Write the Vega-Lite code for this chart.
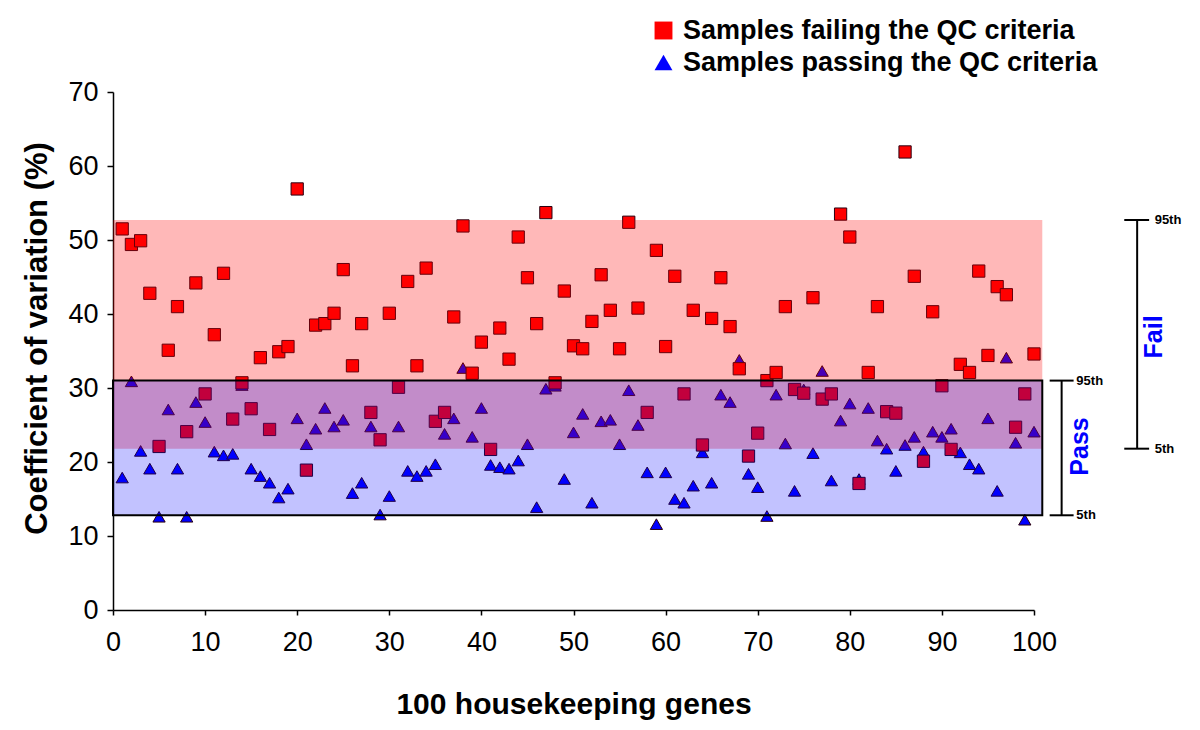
{
  "$schema": "https://vega.github.io/schema/vega-lite/v6.json",
  "width": 921,
  "height": 518,
  "autosize": {"type": "none"},
  "padding": {"left": 113, "top": 92, "right": 166, "bottom": 120},
  "background": "white",
  "config": {
    "font": "Liberation Sans",
    "view": {"stroke": null},
    "axis": {"grid": false, "domainColor": "black", "tickColor": "black", "labelColor": "black", "titleColor": "black", "domainWidth": 1.5, "tickWidth": 1.5, "labelFont": "Liberation Sans", "titleFont": "Liberation Sans"}
  },
  "datasets": {
    "points": [
      {"gene": 1, "cv": 17.9, "status": "Samples passing the QC criteria"},
      {"gene": 2, "cv": 30.9, "status": "Samples passing the QC criteria"},
      {"gene": 3, "cv": 21.5, "status": "Samples passing the QC criteria"},
      {"gene": 4, "cv": 19.1, "status": "Samples passing the QC criteria"},
      {"gene": 5, "cv": 12.6, "status": "Samples passing the QC criteria"},
      {"gene": 6, "cv": 27.1, "status": "Samples passing the QC criteria"},
      {"gene": 7, "cv": 19.1, "status": "Samples passing the QC criteria"},
      {"gene": 8, "cv": 12.6, "status": "Samples passing the QC criteria"},
      {"gene": 9, "cv": 28.1, "status": "Samples passing the QC criteria"},
      {"gene": 10, "cv": 25.4, "status": "Samples passing the QC criteria"},
      {"gene": 11, "cv": 21.4, "status": "Samples passing the QC criteria"},
      {"gene": 12, "cv": 20.9, "status": "Samples passing the QC criteria"},
      {"gene": 13, "cv": 21.1, "status": "Samples passing the QC criteria"},
      {"gene": 14, "cv": 30.4, "status": "Samples passing the QC criteria"},
      {"gene": 15, "cv": 19.1, "status": "Samples passing the QC criteria"},
      {"gene": 16, "cv": 18.1, "status": "Samples passing the QC criteria"},
      {"gene": 17, "cv": 17.2, "status": "Samples passing the QC criteria"},
      {"gene": 18, "cv": 15.2, "status": "Samples passing the QC criteria"},
      {"gene": 19, "cv": 16.4, "status": "Samples passing the QC criteria"},
      {"gene": 20, "cv": 25.9, "status": "Samples passing the QC criteria"},
      {"gene": 21, "cv": 22.4, "status": "Samples passing the QC criteria"},
      {"gene": 22, "cv": 24.5, "status": "Samples passing the QC criteria"},
      {"gene": 23, "cv": 27.3, "status": "Samples passing the QC criteria"},
      {"gene": 24, "cv": 24.8, "status": "Samples passing the QC criteria"},
      {"gene": 25, "cv": 25.7, "status": "Samples passing the QC criteria"},
      {"gene": 26, "cv": 15.8, "status": "Samples passing the QC criteria"},
      {"gene": 27, "cv": 17.2, "status": "Samples passing the QC criteria"},
      {"gene": 28, "cv": 24.8, "status": "Samples passing the QC criteria"},
      {"gene": 29, "cv": 12.9, "status": "Samples passing the QC criteria"},
      {"gene": 30, "cv": 15.4, "status": "Samples passing the QC criteria"},
      {"gene": 31, "cv": 24.8, "status": "Samples passing the QC criteria"},
      {"gene": 32, "cv": 18.8, "status": "Samples passing the QC criteria"},
      {"gene": 33, "cv": 18.1, "status": "Samples passing the QC criteria"},
      {"gene": 34, "cv": 18.8, "status": "Samples passing the QC criteria"},
      {"gene": 35, "cv": 19.7, "status": "Samples passing the QC criteria"},
      {"gene": 36, "cv": 23.8, "status": "Samples passing the QC criteria"},
      {"gene": 37, "cv": 25.9, "status": "Samples passing the QC criteria"},
      {"gene": 38, "cv": 32.7, "status": "Samples passing the QC criteria"},
      {"gene": 39, "cv": 23.4, "status": "Samples passing the QC criteria"},
      {"gene": 40, "cv": 27.3, "status": "Samples passing the QC criteria"},
      {"gene": 41, "cv": 19.6, "status": "Samples passing the QC criteria"},
      {"gene": 42, "cv": 19.3, "status": "Samples passing the QC criteria"},
      {"gene": 43, "cv": 19.1, "status": "Samples passing the QC criteria"},
      {"gene": 44, "cv": 20.2, "status": "Samples passing the QC criteria"},
      {"gene": 45, "cv": 22.4, "status": "Samples passing the QC criteria"},
      {"gene": 46, "cv": 13.9, "status": "Samples passing the QC criteria"},
      {"gene": 47, "cv": 29.9, "status": "Samples passing the QC criteria"},
      {"gene": 48, "cv": 30.3, "status": "Samples passing the QC criteria"},
      {"gene": 49, "cv": 17.7, "status": "Samples passing the QC criteria"},
      {"gene": 50, "cv": 24.0, "status": "Samples passing the QC criteria"},
      {"gene": 51, "cv": 26.5, "status": "Samples passing the QC criteria"},
      {"gene": 52, "cv": 14.5, "status": "Samples passing the QC criteria"},
      {"gene": 53, "cv": 25.5, "status": "Samples passing the QC criteria"},
      {"gene": 54, "cv": 25.7, "status": "Samples passing the QC criteria"},
      {"gene": 55, "cv": 22.4, "status": "Samples passing the QC criteria"},
      {"gene": 56, "cv": 29.7, "status": "Samples passing the QC criteria"},
      {"gene": 57, "cv": 25.0, "status": "Samples passing the QC criteria"},
      {"gene": 58, "cv": 18.6, "status": "Samples passing the QC criteria"},
      {"gene": 59, "cv": 11.6, "status": "Samples passing the QC criteria"},
      {"gene": 60, "cv": 18.6, "status": "Samples passing the QC criteria"},
      {"gene": 61, "cv": 15.0, "status": "Samples passing the QC criteria"},
      {"gene": 62, "cv": 14.5, "status": "Samples passing the QC criteria"},
      {"gene": 63, "cv": 16.8, "status": "Samples passing the QC criteria"},
      {"gene": 64, "cv": 21.3, "status": "Samples passing the QC criteria"},
      {"gene": 65, "cv": 17.2, "status": "Samples passing the QC criteria"},
      {"gene": 66, "cv": 29.1, "status": "Samples passing the QC criteria"},
      {"gene": 67, "cv": 28.1, "status": "Samples passing the QC criteria"},
      {"gene": 68, "cv": 33.8, "status": "Samples passing the QC criteria"},
      {"gene": 69, "cv": 18.4, "status": "Samples passing the QC criteria"},
      {"gene": 70, "cv": 16.6, "status": "Samples passing the QC criteria"},
      {"gene": 71, "cv": 12.7, "status": "Samples passing the QC criteria"},
      {"gene": 72, "cv": 29.1, "status": "Samples passing the QC criteria"},
      {"gene": 73, "cv": 22.5, "status": "Samples passing the QC criteria"},
      {"gene": 74, "cv": 16.1, "status": "Samples passing the QC criteria"},
      {"gene": 75, "cv": 29.8, "status": "Samples passing the QC criteria"},
      {"gene": 76, "cv": 21.2, "status": "Samples passing the QC criteria"},
      {"gene": 77, "cv": 32.3, "status": "Samples passing the QC criteria"},
      {"gene": 78, "cv": 17.5, "status": "Samples passing the QC criteria"},
      {"gene": 79, "cv": 25.6, "status": "Samples passing the QC criteria"},
      {"gene": 80, "cv": 27.9, "status": "Samples passing the QC criteria"},
      {"gene": 81, "cv": 17.7, "status": "Samples passing the QC criteria"},
      {"gene": 82, "cv": 27.3, "status": "Samples passing the QC criteria"},
      {"gene": 83, "cv": 22.9, "status": "Samples passing the QC criteria"},
      {"gene": 84, "cv": 21.8, "status": "Samples passing the QC criteria"},
      {"gene": 85, "cv": 18.8, "status": "Samples passing the QC criteria"},
      {"gene": 86, "cv": 22.3, "status": "Samples passing the QC criteria"},
      {"gene": 87, "cv": 23.4, "status": "Samples passing the QC criteria"},
      {"gene": 88, "cv": 21.4, "status": "Samples passing the QC criteria"},
      {"gene": 89, "cv": 24.1, "status": "Samples passing the QC criteria"},
      {"gene": 90, "cv": 23.4, "status": "Samples passing the QC criteria"},
      {"gene": 91, "cv": 24.5, "status": "Samples passing the QC criteria"},
      {"gene": 92, "cv": 21.3, "status": "Samples passing the QC criteria"},
      {"gene": 93, "cv": 19.7, "status": "Samples passing the QC criteria"},
      {"gene": 94, "cv": 19.1, "status": "Samples passing the QC criteria"},
      {"gene": 95, "cv": 25.9, "status": "Samples passing the QC criteria"},
      {"gene": 96, "cv": 16.1, "status": "Samples passing the QC criteria"},
      {"gene": 97, "cv": 34.1, "status": "Samples passing the QC criteria"},
      {"gene": 98, "cv": 22.6, "status": "Samples passing the QC criteria"},
      {"gene": 99, "cv": 12.2, "status": "Samples passing the QC criteria"},
      {"gene": 100, "cv": 24.1, "status": "Samples passing the QC criteria"},
      {"gene": 1, "cv": 51.5, "status": "Samples failing the QC criteria"},
      {"gene": 2, "cv": 49.4, "status": "Samples failing the QC criteria"},
      {"gene": 3, "cv": 49.9, "status": "Samples failing the QC criteria"},
      {"gene": 4, "cv": 42.8, "status": "Samples failing the QC criteria"},
      {"gene": 5, "cv": 22.1, "status": "Samples failing the QC criteria"},
      {"gene": 6, "cv": 35.1, "status": "Samples failing the QC criteria"},
      {"gene": 7, "cv": 41.0, "status": "Samples failing the QC criteria"},
      {"gene": 8, "cv": 24.1, "status": "Samples failing the QC criteria"},
      {"gene": 9, "cv": 44.2, "status": "Samples failing the QC criteria"},
      {"gene": 10, "cv": 29.2, "status": "Samples failing the QC criteria"},
      {"gene": 11, "cv": 37.2, "status": "Samples failing the QC criteria"},
      {"gene": 12, "cv": 45.5, "status": "Samples failing the QC criteria"},
      {"gene": 13, "cv": 25.8, "status": "Samples failing the QC criteria"},
      {"gene": 14, "cv": 30.7, "status": "Samples failing the QC criteria"},
      {"gene": 15, "cv": 27.2, "status": "Samples failing the QC criteria"},
      {"gene": 16, "cv": 34.1, "status": "Samples failing the QC criteria"},
      {"gene": 17, "cv": 24.4, "status": "Samples failing the QC criteria"},
      {"gene": 18, "cv": 34.9, "status": "Samples failing the QC criteria"},
      {"gene": 19, "cv": 35.6, "status": "Samples failing the QC criteria"},
      {"gene": 20, "cv": 56.9, "status": "Samples failing the QC criteria"},
      {"gene": 21, "cv": 18.9, "status": "Samples failing the QC criteria"},
      {"gene": 22, "cv": 38.5, "status": "Samples failing the QC criteria"},
      {"gene": 23, "cv": 38.7, "status": "Samples failing the QC criteria"},
      {"gene": 24, "cv": 40.1, "status": "Samples failing the QC criteria"},
      {"gene": 25, "cv": 46.0, "status": "Samples failing the QC criteria"},
      {"gene": 26, "cv": 33.0, "status": "Samples failing the QC criteria"},
      {"gene": 27, "cv": 38.7, "status": "Samples failing the QC criteria"},
      {"gene": 28, "cv": 26.7, "status": "Samples failing the QC criteria"},
      {"gene": 29, "cv": 23.0, "status": "Samples failing the QC criteria"},
      {"gene": 30, "cv": 40.1, "status": "Samples failing the QC criteria"},
      {"gene": 31, "cv": 30.1, "status": "Samples failing the QC criteria"},
      {"gene": 32, "cv": 44.4, "status": "Samples failing the QC criteria"},
      {"gene": 33, "cv": 33.0, "status": "Samples failing the QC criteria"},
      {"gene": 34, "cv": 46.2, "status": "Samples failing the QC criteria"},
      {"gene": 35, "cv": 25.5, "status": "Samples failing the QC criteria"},
      {"gene": 36, "cv": 26.7, "status": "Samples failing the QC criteria"},
      {"gene": 37, "cv": 39.6, "status": "Samples failing the QC criteria"},
      {"gene": 38, "cv": 51.9, "status": "Samples failing the QC criteria"},
      {"gene": 39, "cv": 32.0, "status": "Samples failing the QC criteria"},
      {"gene": 40, "cv": 36.2, "status": "Samples failing the QC criteria"},
      {"gene": 41, "cv": 21.7, "status": "Samples failing the QC criteria"},
      {"gene": 42, "cv": 38.1, "status": "Samples failing the QC criteria"},
      {"gene": 43, "cv": 33.9, "status": "Samples failing the QC criteria"},
      {"gene": 44, "cv": 50.4, "status": "Samples failing the QC criteria"},
      {"gene": 45, "cv": 44.9, "status": "Samples failing the QC criteria"},
      {"gene": 46, "cv": 38.7, "status": "Samples failing the QC criteria"},
      {"gene": 47, "cv": 53.7, "status": "Samples failing the QC criteria"},
      {"gene": 48, "cv": 30.7, "status": "Samples failing the QC criteria"},
      {"gene": 49, "cv": 43.1, "status": "Samples failing the QC criteria"},
      {"gene": 50, "cv": 35.7, "status": "Samples failing the QC criteria"},
      {"gene": 51, "cv": 35.3, "status": "Samples failing the QC criteria"},
      {"gene": 52, "cv": 39.0, "status": "Samples failing the QC criteria"},
      {"gene": 53, "cv": 45.3, "status": "Samples failing the QC criteria"},
      {"gene": 54, "cv": 40.5, "status": "Samples failing the QC criteria"},
      {"gene": 55, "cv": 35.3, "status": "Samples failing the QC criteria"},
      {"gene": 56, "cv": 52.4, "status": "Samples failing the QC criteria"},
      {"gene": 57, "cv": 40.8, "status": "Samples failing the QC criteria"},
      {"gene": 58, "cv": 26.7, "status": "Samples failing the QC criteria"},
      {"gene": 59, "cv": 48.6, "status": "Samples failing the QC criteria"},
      {"gene": 60, "cv": 35.6, "status": "Samples failing the QC criteria"},
      {"gene": 61, "cv": 45.1, "status": "Samples failing the QC criteria"},
      {"gene": 62, "cv": 29.2, "status": "Samples failing the QC criteria"},
      {"gene": 63, "cv": 40.5, "status": "Samples failing the QC criteria"},
      {"gene": 64, "cv": 22.3, "status": "Samples failing the QC criteria"},
      {"gene": 65, "cv": 39.4, "status": "Samples failing the QC criteria"},
      {"gene": 66, "cv": 44.9, "status": "Samples failing the QC criteria"},
      {"gene": 67, "cv": 38.3, "status": "Samples failing the QC criteria"},
      {"gene": 68, "cv": 32.6, "status": "Samples failing the QC criteria"},
      {"gene": 69, "cv": 20.8, "status": "Samples failing the QC criteria"},
      {"gene": 70, "cv": 23.9, "status": "Samples failing the QC criteria"},
      {"gene": 71, "cv": 31.0, "status": "Samples failing the QC criteria"},
      {"gene": 72, "cv": 32.1, "status": "Samples failing the QC criteria"},
      {"gene": 73, "cv": 41.0, "status": "Samples failing the QC criteria"},
      {"gene": 74, "cv": 29.8, "status": "Samples failing the QC criteria"},
      {"gene": 75, "cv": 29.3, "status": "Samples failing the QC criteria"},
      {"gene": 76, "cv": 42.2, "status": "Samples failing the QC criteria"},
      {"gene": 77, "cv": 28.5, "status": "Samples failing the QC criteria"},
      {"gene": 78, "cv": 29.2, "status": "Samples failing the QC criteria"},
      {"gene": 79, "cv": 53.5, "status": "Samples failing the QC criteria"},
      {"gene": 80, "cv": 50.4, "status": "Samples failing the QC criteria"},
      {"gene": 81, "cv": 17.1, "status": "Samples failing the QC criteria"},
      {"gene": 82, "cv": 32.1, "status": "Samples failing the QC criteria"},
      {"gene": 83, "cv": 41.0, "status": "Samples failing the QC criteria"},
      {"gene": 84, "cv": 26.8, "status": "Samples failing the QC criteria"},
      {"gene": 85, "cv": 26.6, "status": "Samples failing the QC criteria"},
      {"gene": 86, "cv": 61.9, "status": "Samples failing the QC criteria"},
      {"gene": 87, "cv": 45.1, "status": "Samples failing the QC criteria"},
      {"gene": 88, "cv": 20.1, "status": "Samples failing the QC criteria"},
      {"gene": 89, "cv": 40.3, "status": "Samples failing the QC criteria"},
      {"gene": 90, "cv": 30.3, "status": "Samples failing the QC criteria"},
      {"gene": 91, "cv": 21.7, "status": "Samples failing the QC criteria"},
      {"gene": 92, "cv": 33.2, "status": "Samples failing the QC criteria"},
      {"gene": 93, "cv": 32.1, "status": "Samples failing the QC criteria"},
      {"gene": 94, "cv": 45.8, "status": "Samples failing the QC criteria"},
      {"gene": 95, "cv": 34.4, "status": "Samples failing the QC criteria"},
      {"gene": 96, "cv": 43.7, "status": "Samples failing the QC criteria"},
      {"gene": 97, "cv": 42.6, "status": "Samples failing the QC criteria"},
      {"gene": 98, "cv": 24.7, "status": "Samples failing the QC criteria"},
      {"gene": 99, "cv": 29.2, "status": "Samples failing the QC criteria"},
      {"gene": 100, "cv": 34.6, "status": "Samples failing the QC criteria"}
    ],
    "bands": [
      {"band": "fail", "gene": 0, "gene2": 100.9, "cv": 21.8, "cv2": 52.7},
      {"band": "pass", "gene": 0, "gene2": 100.9, "cv": 12.8, "cv2": 31.0}
    ],
    "brackets": [
      {"gene": 103.0, "gene2": 103.0, "cv": 12.8, "cv2": 31.0},
      {"gene": 101.7, "gene2": 104.3, "cv": 31.0, "cv2": 31.0},
      {"gene": 101.7, "gene2": 104.3, "cv": 12.8, "cv2": 12.8},
      {"gene": 111.2, "gene2": 111.2, "cv": 21.8, "cv2": 52.7},
      {"gene": 109.8, "gene2": 112.5, "cv": 52.7, "cv2": 52.7},
      {"gene": 109.8, "gene2": 112.5, "cv": 21.8, "cv2": 21.8}
    ],
    "pct": [
      {"gene": 104.6, "cv": 31.0, "label": "95th"},
      {"gene": 104.6, "cv": 12.8, "label": "5th"},
      {"gene": 113.1, "cv": 52.7, "label": "95th"},
      {"gene": 113.1, "cv": 21.8, "label": "5th"}
    ],
    "groups": [
      {"gene": 105.0, "cv": 22.1, "label": "Pass"},
      {"gene": 113.0, "cv": 36.9, "label": "Fail"}
    ]
  },
  "encoding": {
    "x": {"field": "gene", "type": "quantitative", "scale": {"domain": [0, 100], "nice": false},
      "axis": {"values": [0, 10, 20, 30, 40, 50, 60, 70, 80, 90, 100], "tickSize": 5, "labelFontSize": 27, "labelPadding": 14, "labelFlush": false, "title": "100 housekeeping genes", "titleFontSize": 30, "titleFontWeight": "bold", "titlePadding": 34}},
    "y": {"field": "cv", "type": "quantitative", "scale": {"domain": [0, 70], "nice": false},
      "axis": {"values": [0, 10, 20, 30, 40, 50, 60, 70], "tickSize": 6, "labelFontSize": 27, "labelPadding": 9, "labelFlush": false, "title": "Coefficient of variation (%)", "titleFontSize": 31, "titleFontWeight": "bold", "titlePadding": 14, "titleY": 246}}
  },
  "layer": [
    {
      "data": {"name": "points"},
      "mark": {"type": "point", "filled": true, "opacity": 1, "size": 150, "stroke": "#2a0010", "strokeWidth": 1},
      "encoding": {
        "color": {"field": "status", "type": "nominal",
          "scale": {"domain": ["Samples failing the QC criteria", "Samples passing the QC criteria"], "range": ["#ff0000", "#0000ff"]},
          "legend": {"orient": "none", "legendX": 537, "legendY": -75, "title": null, "labelFontSize": 27, "labelFontWeight": "bold", "labelColor": "black", "labelLimit": 0, "symbolSize": 320, "symbolStrokeColor": "#2a0010", "symbolStrokeWidth": 1, "symbolOpacity": 1, "rowPadding": 4, "labelOffset": 6}},
        "shape": {"field": "status", "type": "nominal",
          "scale": {"domain": ["Samples failing the QC criteria", "Samples passing the QC criteria"], "range": ["square", "triangle-up"]},
          "legend": {"orient": "none", "legendX": 537, "legendY": -75, "title": null, "labelFontSize": 27, "labelFontWeight": "bold", "labelColor": "black", "labelLimit": 0, "symbolSize": 320, "symbolStrokeColor": "#2a0010", "symbolStrokeWidth": 1, "symbolOpacity": 1, "rowPadding": 4, "labelOffset": 6}}
      }
    },
    {
      "data": {"name": "bands"},
      "transform": [{"filter": "datum.band == 'fail'"}],
      "mark": {"type": "rect", "fill": "#ff0000", "fillOpacity": 0.28},
      "encoding": {"x2": {"field": "gene2"}, "y2": {"field": "cv2"}}
    },
    {
      "data": {"name": "bands"},
      "transform": [{"filter": "datum.band == 'pass'"}],
      "mark": {"type": "rect", "fill": "#0000ff", "fillOpacity": 0.24, "stroke": "black", "strokeWidth": 2},
      "encoding": {"x2": {"field": "gene2"}, "y2": {"field": "cv2"}}
    },
    {
      "data": {"name": "brackets"},
      "mark": {"type": "rule", "color": "black", "strokeWidth": 2},
      "encoding": {"x2": {"field": "gene2"}, "y2": {"field": "cv2"}}
    },
    {
      "data": {"name": "pct"},
      "mark": {"type": "text", "align": "left", "baseline": "middle", "fontSize": 13, "fontWeight": "bold", "color": "black"},
      "encoding": {"text": {"field": "label"}}
    },
    {
      "data": {"name": "groups"},
      "mark": {"type": "text", "align": "center", "baseline": "middle", "angle": 270, "fontSize": 25, "fontWeight": "bold", "color": "#0000ff"},
      "encoding": {"text": {"field": "label"}}
    }
  ]
}
